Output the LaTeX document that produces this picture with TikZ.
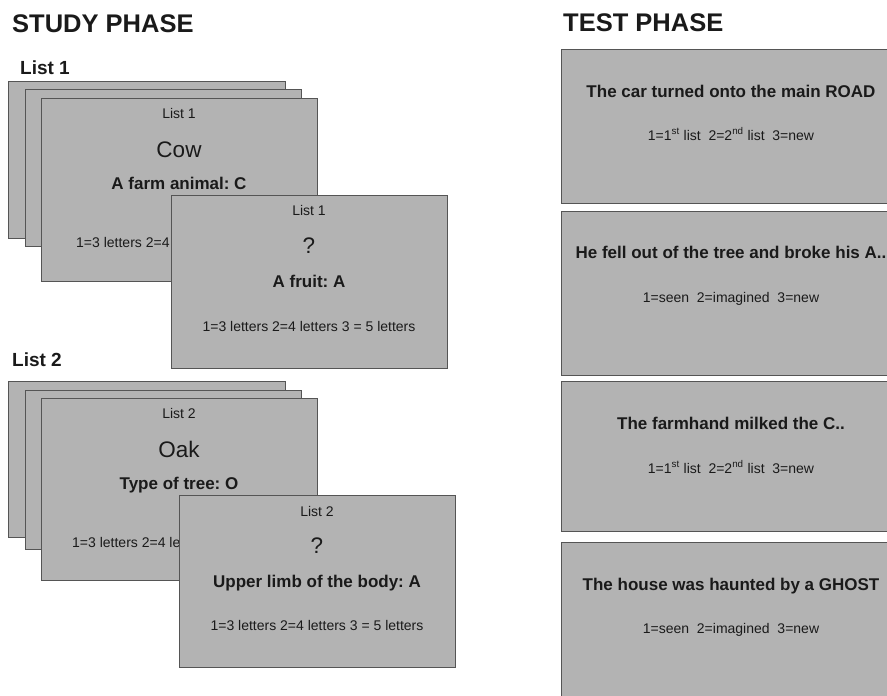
\documentclass[tikz,border=0pt]{standalone}
\usepackage{fontspec}
\setmainfont{Liberation Sans}
\frenchspacing
\definecolor{cardfill}{HTML}{B3B3B3}
\definecolor{cardline}{HTML}{555555}
\definecolor{txt}{HTML}{1A1A1A}
\begin{document}
\begin{tikzpicture}[x=1pt,y=-1pt,
  card/.style={draw=cardline, fill=cardfill, line width=1.1pt, anchor=north west, inner sep=0pt},
  head/.style={font=\bfseries\fontsize{25.5}{28}\selectfont, anchor=base west, inner sep=0pt, text=txt},
  listlabel/.style={font=\bfseries\fontsize{19}{22}\selectfont, anchor=base west, inner sep=0pt, text=txt},
  small/.style={font=\fontsize{14}{16}\selectfont, anchor=base, inner sep=0pt, text=txt},
  word/.style={font=\fontsize{22.5}{26}\selectfont, anchor=base, inner sep=0pt, text=txt},
  cue/.style={font=\bfseries\fontsize{17}{20}\selectfont, anchor=base, inner sep=0pt, text=txt}]
\useasboundingbox (0,0) rectangle (887,696);
\clip (0,0) rectangle (887,696);
\fill[white] (0,0) rectangle (887,696);

% headings
\node[head] (study) at (12,32) {STUDY PHASE};
\node[head] (test) at (563,31) {TEST PHASE};
\node[listlabel] (l1) at (20,74) {List 1};
\node[listlabel] (l2) at (12,366) {List 2};

% ---------- List 1 stack ----------
\node[card, minimum width=277pt, minimum height=157pt] (a1) at (8,81) {};
\node[card, minimum width=276pt, minimum height=157pt] (a2) at (25,89) {};
\node[card, minimum width=276pt, minimum height=183pt] (a3) at (41,98) {};
\node[small] (a3list) at (179,118) {List 1};
\node[word] (a3word) at (179,157) {Cow};
\node[cue] (a3cue) at (179,189) {A farm animal: C};
\node[small, anchor=base west] (a3resp) at (76,247) {1=3 letters 2=4 letters 3 = 5 letters};

\node[card, minimum width=276pt, minimum height=173pt] (a4) at (171,195) {};
\node[small] (a4list) at (309,215) {List 1};
\node[word] (a4word) at (309,253) {?};
\node[cue] (a4cue) at (309,287) {A fruit: A};
\node[small] (a4resp) at (309,331) {1=3 letters 2=4 letters 3 = 5 letters};

% ---------- List 2 stack ----------
\node[card, minimum width=277pt, minimum height=156pt] (b1) at (8,381) {};
\node[card, minimum width=276pt, minimum height=159pt] (b2) at (25,390) {};
\node[card, minimum width=276pt, minimum height=182pt] (b3) at (41,398) {};
\node[small] (b3list) at (179,418) {List 2};
\node[word] (b3word) at (179,457) {Oak};
\node[cue] (b3cue) at (179,489) {Type of tree: O};
\node[small, anchor=base west] (b3resp) at (72,547) {1=3 letters 2=4 letters 3 = 5 letters};

\node[card, minimum width=276pt, minimum height=172pt] (b4) at (179,495) {};
\node[small] (b4list) at (317,516) {List 2};
\node[word] (b4word) at (317,553) {?};
\node[cue] (b4cue) at (317,587) {Upper limb of the body: A};
\node[small] (b4resp) at (317,630) {1=3 letters 2=4 letters 3 = 5 letters};

% ---------- Test phase ----------
\node[card, minimum width=340pt, minimum height=154pt] (t1) at (561,49) {};
\node[cue] (t1cue) at (731,97) {The car turned onto the main ROAD};
\node[small] (t1resp) at (731,140) {1=1\textsuperscript{st} list\ \ 2=2\textsuperscript{nd} list\ \ 3=new};

\node[card, minimum width=340pt, minimum height=164pt] (t2) at (561,211) {};
\node[cue] (t2cue) at (731,258) {He fell out of the tree and broke his A..};
\node[small] (t2resp) at (731,302) {1=seen\ \ 2=imagined\ \ 3=new};

\node[card, minimum width=340pt, minimum height=150pt] (t3) at (561,381) {};
\node[cue] (t3cue) at (731,429) {The farmhand milked the C..};
\node[small] (t3resp) at (731,473) {1=1\textsuperscript{st} list\ \ 2=2\textsuperscript{nd} list\ \ 3=new};

\node[card, minimum width=340pt, minimum height=170pt] (t4) at (561,542) {};
\node[cue] (t4cue) at (731,590) {The house was haunted by a GHOST};
\node[small] (t4resp) at (731,633) {1=seen\ \ 2=imagined\ \ 3=new};
\end{tikzpicture}
\end{document}
